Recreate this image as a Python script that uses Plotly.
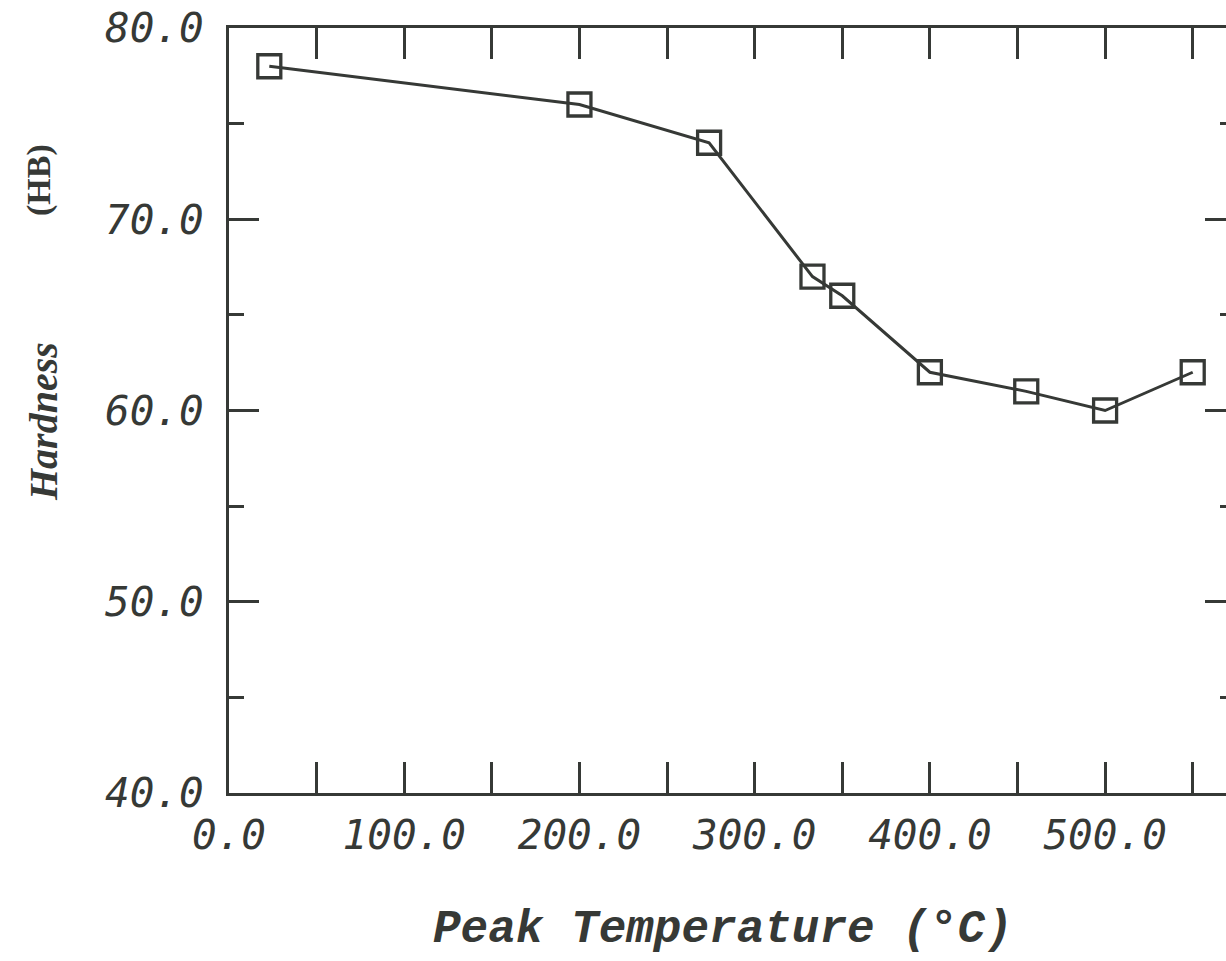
import plotly.graph_objects as go

# Data
peak_temperature_c = [23, 200, 274, 333, 350, 400, 455, 500, 550]
hardness_hb = [78, 76, 74, 67, 66, 62, 61, 60, 62]

x_range = [0, 569]
y_range = [40, 80]

INK = "#363936"
W, H = 1226, 961
L, T, B, R = 229, 28, 168, 0

fig = go.Figure()
fig.add_trace(go.Scatter(
    x=peak_temperature_c, y=hardness_hb,
    mode="lines+markers",
    line=dict(color=INK, width=3),
    marker=dict(symbol="square-open", size=23, color=INK, line=dict(color=INK, width=3.3)),
    showlegend=False, hoverinfo="skip",
))
# helper trace so the right-hand tick axis exists
fig.add_trace(go.Scatter(x=[None], y=[None], yaxis="y2", showlegend=False, hoverinfo="skip"))

tick_font = dict(family="DejaVu Sans Mono", size=41, color=INK, style="italic")

fig.update_layout(
    width=W, height=H,
    margin=dict(l=L, r=R, t=T, b=B, pad=0),
    paper_bgcolor="white", plot_bgcolor="white",
    xaxis=dict(
        range=x_range, dtick=100, tick0=0, tickformat=".1f",
        showline=True, linecolor=INK, linewidth=3, mirror="allticks",
        ticks="inside", ticklen=31, tickwidth=3, tickcolor=INK,
        minor=dict(dtick=50, ticks="inside", ticklen=15, tickwidth=3, tickcolor=INK, showgrid=False),
        showgrid=False, zeroline=False, tickfont=tick_font, ticklabelstandoff=4,
    ),
    yaxis=dict(
        range=y_range, dtick=10, tick0=40, tickformat=".1f",
        showline=True, linecolor=INK, linewidth=3, mirror=False,
        ticks="inside", ticklen=30, tickwidth=3, tickcolor=INK,
        minor=dict(dtick=5, ticks="inside", ticklen=15, tickwidth=3, tickcolor=INK, showgrid=False),
        showgrid=False, zeroline=False, tickfont=tick_font, ticklabelstandoff=14,
    ),
    yaxis2=dict(
        range=y_range, dtick=10, tick0=40, overlaying="y", side="right", anchor="x",
        showline=False, showticklabels=False,
        ticks="inside", ticklen=21, tickwidth=3, tickcolor=INK,
        minor=dict(dtick=5, ticks="inside", ticklen=6, tickwidth=3, tickcolor=INK, showgrid=False),
        showgrid=False, zeroline=False,
    ),
    annotations=[
        dict(text="Peak Temperature (°C)", xref="paper", yref="paper",
             x=(723 - L) / (W - L - R), y=(H - B - 930) / (H - T - B),
             xanchor="center", yanchor="middle", showarrow=False,
             font=dict(family="Liberation Mono", size=46, color=INK, style="italic", weight="bold")),
        dict(text="Hardness", xref="paper", yref="paper", textangle=-90,
             x=(44 - L) / (W - L - R), y=(H - B - 422) / (H - T - B),
             xanchor="center", yanchor="middle", showarrow=False,
             font=dict(family="Liberation Serif", size=40, color=INK, style="italic", weight="bold")),
        dict(text="(HB)", xref="paper", yref="paper", textangle=-90,
             x=(39 - L) / (W - L - R), y=(H - B - 180) / (H - T - B),
             xanchor="center", yanchor="middle", showarrow=False,
             font=dict(family="Liberation Serif", size=34, color=INK, weight="bold")),
    ],
)

fig.write_html("out.html")
